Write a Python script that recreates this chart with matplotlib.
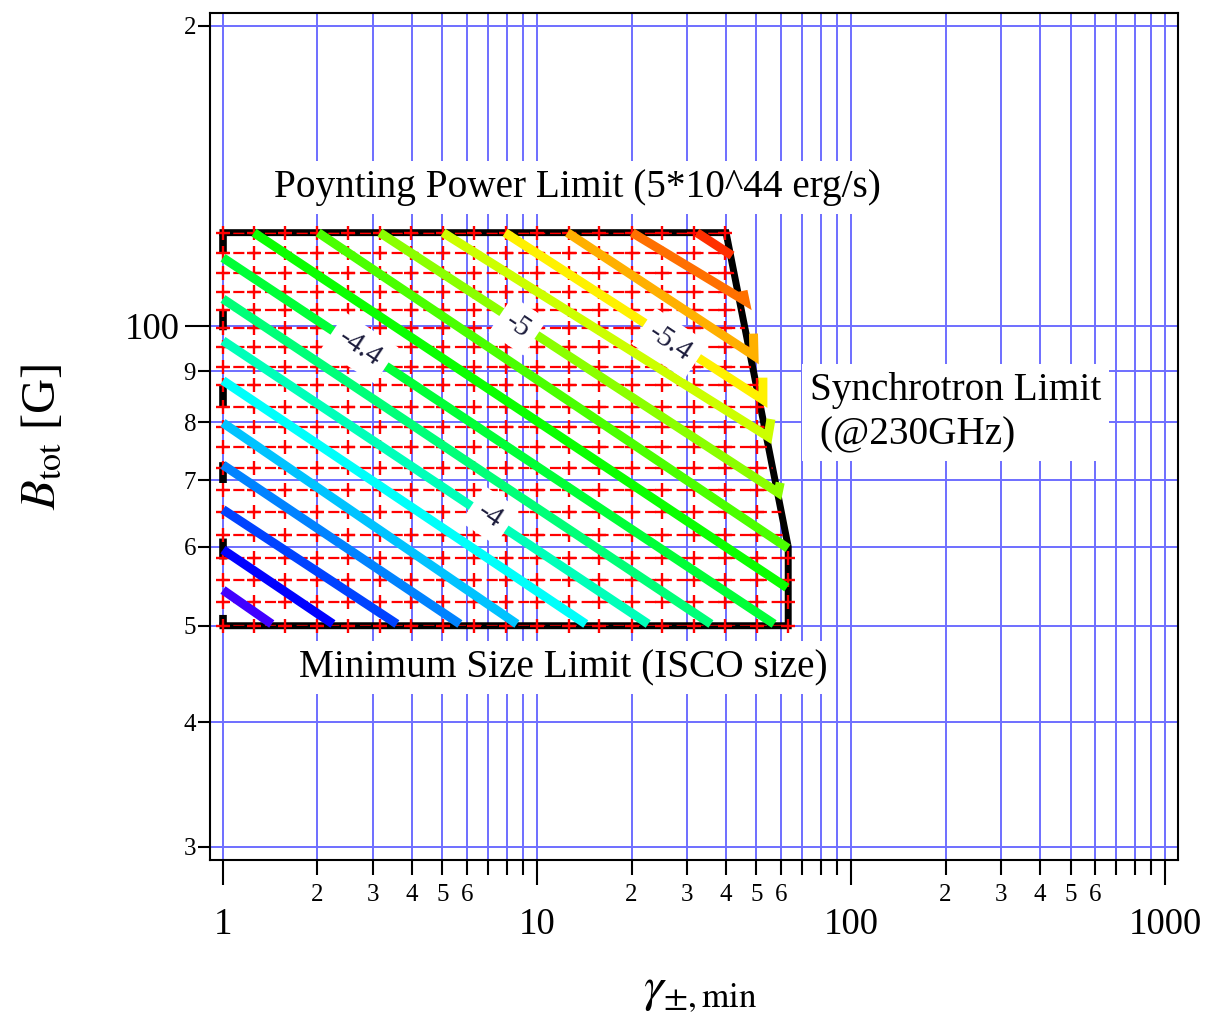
import numpy as np
import matplotlib
matplotlib.use('Agg')
import matplotlib.pyplot as plt
from matplotlib.colors import hsv_to_rgb
from matplotlib.path import Path
from matplotlib.patches import Polygon
from matplotlib.ticker import LogLocator, FuncFormatter

plt.rcParams['font.family'] = ['Liberation Serif', 'DejaVu Serif']
plt.rcParams['mathtext.fontset'] = 'stix'
plt.rcParams['lines.scale_dashes'] = False

# allowed region (gamma, B): Poynting limit on top, synchrotron limit on the right, ISCO at the bottom
bound_gamma = [1.0, 40.0, 63.1, 63.1, 1.0]
bound_B = [124.0, 124.0, 60.0, 50.0, 50.0]

# red sampling mesh
mesh_gamma = [1.0, 1.26, 1.58, 2.0, 2.51, 3.16, 3.98, 5.01, 6.31, 7.94, 10.0,
              12.6, 15.8, 20.0, 25.1, 31.6, 39.8, 50.1, 63.1]
mesh_B = [124.0, 118.4, 113.0, 108.2, 103.8, 99.5, 95.3, 90.9, 87.3, 82.9,
          79.2, 75.6, 72.0, 68.4, 65.1, 61.7, 58.5, 55.6, 52.8, 50.0]

# contour lines
levels = [-2.8, -3.0, -3.2, -3.4, -3.6, -3.8, -4.0, -4.2, -4.4,
          -4.6, -4.8, -5.0, -5.2, -5.4, -5.6, -5.8, -6.0]
contour_gamma = [
    [1.0, 1.43],
    [1.0, 2.24],
    [1.0, 3.58],
    [1.0, 5.68],
    [1.0, 8.63],
    [1.0, 14.3],
    [1.0, 22.6],
    [1.0, 35.8],
    [1.0, 56.9],
    [1.255, 62.5],
    [2.01, 63.0],
    [3.16, 58.6, 59.5],
    [5.02, 54.4, 55.6],
    [7.91, 52.4, 52.4],
    [12.5, 49.1, 48.9],
    [20.1, 46.0, 45.3],
    [32.3, 41.8],
]
contour_B = [
    [54.3, 50.2],
    [59.6, 50.2],
    [65.4, 50.2],
    [72.5, 50.2],
    [79.9, 50.2],
    [88.1, 50.2],
    [96.6, 50.2],
    [106.4, 50.2],
    [117.0, 50.2],
    [124.0, 54.6],
    [124.0, 59.8],
    [124.0, 68.0, 69.6],
    [124.0, 77.4, 80.6],
    [124.0, 84.3, 88.7],
    [124.0, 93.3, 98.2],
    [124.0, 105.9, 108.4],
    [124.0, 117.6],
]

# contour labels
label_text = ['-4.4', '-5', '-5.4', '-4']
label_gamma = [2.73, 8.7, 26.5, 7.09]
label_B = [95.0, 100.0, 96.0, 64.5]

fig = plt.figure(figsize=(12.08, 10.21), dpi=100)
ax = fig.add_axes([0.1738, 0.1577, 0.8014, 0.8296])
ax.set_xscale('log')
ax.set_yscale('log')
ax.set_xlim(0.909, 1100)
ax.set_ylim(29.1, 206)

# blue grid
ax.set_axisbelow(True)
ax.grid(True, which='both', color='#6e6eff', lw=1.4)

# region border
ax.plot(bound_gamma, bound_B, color='black', lw=5, solid_joinstyle='miter', zorder=2)
ax.plot([bound_gamma[0], bound_gamma[-1]], [bound_B[0], bound_B[-1]], color='black',
        lw=5.5, linestyle=(0, (15, 40)), zorder=2)

# red mesh, kept inside the region
poly = Polygon(np.column_stack([bound_gamma, bound_B]), closed=True, transform=ax.transData,
               facecolor='none', edgecolor='none')
ax.add_patch(poly)
for b in mesh_B:
    ln, = ax.plot([mesh_gamma[0], mesh_gamma[-1] * 1.03], [b, b], color='red', lw=1.6,
                  linestyle=(4, (8, 3.4)), zorder=3)
    ln.set_clip_path(poly)
lpath = Path(np.column_stack([np.log10(bound_gamma), np.log10(bound_B)]))
gg, bb = np.meshgrid(mesh_gamma, mesh_B)
pts = np.column_stack([np.log10(gg).ravel(), np.log10(bb).ravel()])
inside = lpath.contains_points(pts, radius=0.012) | lpath.contains_points(pts, radius=-0.012)
ax.plot(gg.ravel()[inside], bb.ravel()[inside], '+', color='red', ms=10, mew=1.7, zorder=3)

# contour lines
n = len(levels)
for i in range(n):
    hue = (255 - 244 * i / (n - 1)) / 360
    col = hsv_to_rgb((hue, 1, 1))
    ax.plot(contour_gamma[i], contour_B[i], color=col, lw=6.5,
            solid_capstyle='butt', solid_joinstyle='miter', zorder=4)

for t, g, b in zip(label_text, label_gamma, label_B):
    ax.text(g, b, t, fontsize=21, color='#1c1c3c', rotation=-33.6, rotation_mode='anchor',
            ha='center', va='center', zorder=6,
            bbox=dict(boxstyle='square,pad=0.3', fc='white', ec='none'))

# limit annotations
box = dict(boxstyle='square,pad=0.2', fc='white', ec='none')
ax.text(13.5, 137.6, 'Poynting Power Limit (5*10^44 erg/s)', fontsize=28.3,
        ha='center', va='center', zorder=6, bbox=box)
ax.text(12.1, 45.4, 'Minimum Size Limit (ISCO size)', fontsize=28.3,
        ha='center', va='center', zorder=6, bbox=box)
ax.text(74.0, 81.8, 'Synchrotron Limit\n (@230GHz)', fontsize=28.3,
        ha='left', va='center', zorder=6, linespacing=1.25, bbox=box)

# ticks
def lead_digit(allowed):
    def f(v, pos):
        d = int(round(v / 10 ** np.floor(np.log10(v) + 1e-9)))
        return str(d) if d in allowed else ''
    return f

ax.xaxis.set_major_locator(LogLocator(base=10, numticks=10))
ax.xaxis.set_minor_locator(LogLocator(base=10, subs=np.arange(2, 10), numticks=40))
ax.yaxis.set_minor_locator(LogLocator(base=10, subs=np.arange(2, 10), numticks=40))
ax.xaxis.set_major_formatter(FuncFormatter(lambda v, p: '%d' % round(v)))
ax.yaxis.set_major_formatter(FuncFormatter(lambda v, p: '%d' % round(v)))
ax.xaxis.set_minor_formatter(FuncFormatter(lead_digit([2, 3, 4, 5, 6])))
ax.yaxis.set_minor_formatter(FuncFormatter(lead_digit([2, 3, 4, 5, 6, 7, 8, 9])))

ax.tick_params(axis='x', which='major', length=18, width=1.5, pad=16, labelsize=26.5)
ax.tick_params(axis='x', which='minor', length=11, width=1.5, pad=6, labelsize=18)
ax.tick_params(axis='y', which='major', length=18, width=1.5, pad=4, labelsize=26.5)
ax.tick_params(axis='y', which='minor', length=9, width=1.5, pad=1, labelsize=18)
for s in ax.spines.values():
    s.set_linewidth(1.5)

ax.set_ylabel(r'$B_{\rm tot}$ [G]', fontsize=35)
ax.yaxis.set_label_coords(-0.15, 0.5)
ax.set_xlabel(r'$\gamma_{\pm,\rm min}$', fontsize=36)
ax.xaxis.set_label_coords(0.506, -0.128)

fig.savefig('out.png', dpi=100)
